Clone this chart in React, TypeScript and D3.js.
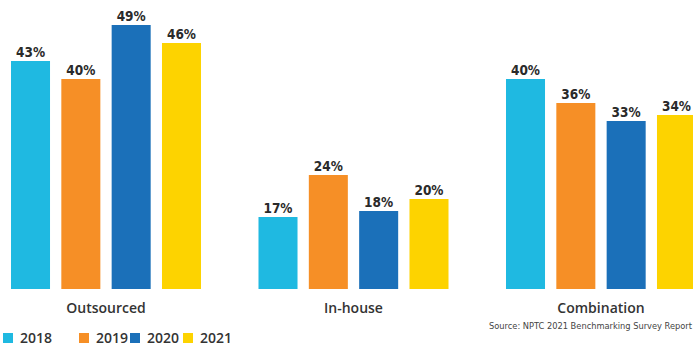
import React from "react";
import * as d3 from "d3";

const categories = ["Outsourced", "In-house", "Combination"];
const years = ["2018", "2019", "2020", "2021"];
const values2018 = [43, 17, 40];
const values2019 = [40, 24, 36];
const values2020 = [49, 18, 33];
const values2021 = [46, 20, 34];
const seriesValues = [values2018, values2019, values2020, values2021];
const colors = ["#1fb9e1", "#f68f26", "#1b70b9", "#fdd300"];
const sourceText = "Source: NPTC 2021 Benchmarking Survey Report";

const W = 693;
const H = 346;

export default function App() {
  const x0 = d3.scaleBand<string>().domain(categories).range([11, 696]).paddingInner(0.2323).paddingOuter(0);
  const x1 = d3.scaleBand<string>().domain(years).range([0, x0.bandwidth()]).paddingInner(0.2247).paddingOuter(0);
  const y = d3.scaleLinear().domain([5, 49]).range([289, 25]);

  const legendX = [3, 79, 130, 183];
  const labelFont = "'DejaVu Sans Condensed', 'DejaVu Sans', sans-serif";

  return (
    <svg width={W} height={H} style={{ position: "absolute", left: 0, top: 0, background: "#fff" }}>
      <rect x={0} y={0} width={W} height={H} fill="#fff" />
      {categories.map((cat, ci) => (
        <g key={cat} transform={`translate(${x0(cat)},0)`}>
          {years.map((yr, si) => {
            const v = seriesValues[si][ci];
            const bx = x1(yr)!;
            return (
              <g key={yr}>
                <rect x={bx} y={y(v)} width={x1.bandwidth()} height={y(5) - y(v)} fill={colors[si]} />
                <text
                  x={bx + x1.bandwidth() / 2}
                  y={y(v) - 4}
                  textAnchor="middle"
                  fontFamily={labelFont}
                  fontWeight="bold"
                  fontSize={13.5}
                  fill="#2a2a2a"
                >
                  {v}%
                </text>
              </g>
            );
          })}
          <text
            x={x0.bandwidth() / 2}
            y={313}
            textAnchor="middle"
            fontFamily="'Open Sans', sans-serif"
            fontWeight={600}
            fontSize={14}
            fill="#333"
          >
            {cat}
          </text>
        </g>
      ))}
      {years.map((yr, si) => (
        <g key={yr} transform={`translate(${legendX[si]},333)`}>
          <rect x={0} y={0} width={10} height={10} fill={colors[si]} />
          <text x={17} y={10} fontFamily="'Open Sans', sans-serif" fontWeight={600} fontSize={14} fill="#333">
            {yr}
          </text>
        </g>
      ))}
      <text
        x={489}
        y={329}
        fontFamily="'DejaVu Sans Condensed', sans-serif"
        fontSize={9}
        textLength={203}
        lengthAdjust="spacingAndGlyphs"
        fill="#444"
      >
        {sourceText}
      </text>
    </svg>
  );
}
